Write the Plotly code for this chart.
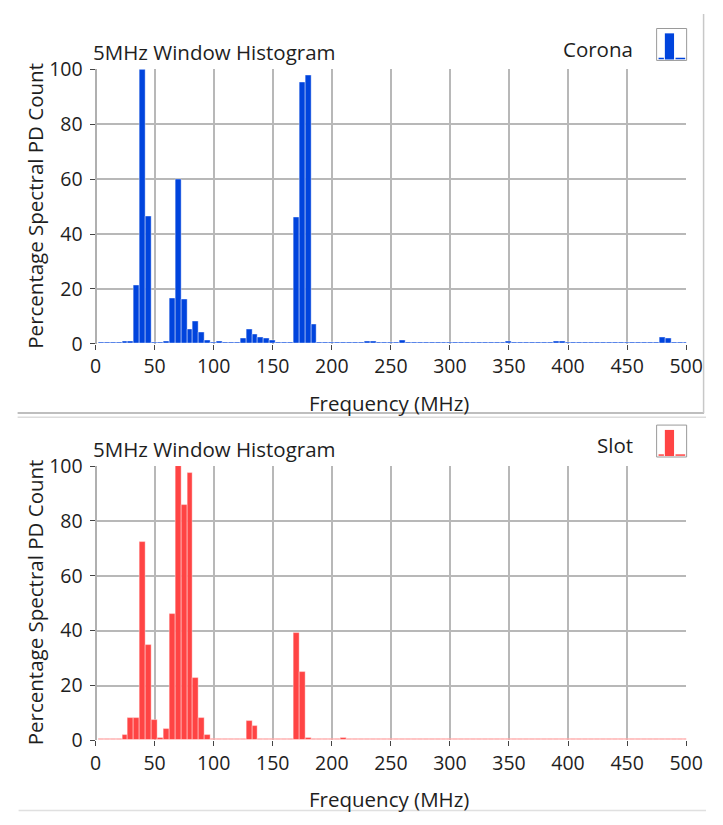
import plotly.graph_objects as go

W, H = 723, 825

# ---------------- data ----------------
freq_mhz = list(range(5, 505, 5))  # 5 MHz window centres

corona_pct = [
    0.5, 0.5, 0.5, 0.5, 1.0, 1.0, 21.2, 100.0, 46.6, 0.5,
    0.5, 1.0, 16.6, 59.8, 16.1, 5.3, 8.0, 4.1, 1.4, 0.6,
    0.9, 0.5, 0.6, 0.5, 1.8, 5.2, 3.6, 2.5, 1.8, 1.4,
    0.6, 0.6, 0.6, 46.1, 95.3, 97.8, 7.2, 0.5, 0.5, 0.5,
    0.5, 0.6, 0.6, 0.5, 0.6, 1.0, 1.0, 0.6, 0.5, 0.5,
    0.6, 1.1, 0.6, 0.5, 0.5, 0.5, 0.5, 0.5, 0.5, 0.5,
    0.5, 0.5, 0.5, 0.5, 0.5, 0.5, 0.5, 0.5, 0.5, 0.7,
    0.5, 0.5, 0.5, 0.5, 0.5, 0.5, 0.5, 0.7, 0.7, 0.5,
    0.5, 0.5, 0.5, 0.5, 0.5, 0.5, 0.5, 0.5, 0.5, 0.5,
    0.5, 0.5, 0.5, 0.5, 0.5, 2.2, 1.9, 0.5, 0.5, 0.5,
]

slot_pct = [
    0.5, 0.5, 0.5, 0.5, 2.1, 8.0, 8.0, 72.3, 34.9, 7.6,
    0.9, 4.1, 46.2, 100.0, 85.9, 97.3, 22.8, 8.0, 2.1, 0.5,
    0.5, 0.5, 0.5, 0.5, 0.6, 7.2, 5.3, 0.6, 0.5, 0.5,
    0.5, 0.5, 0.6, 39.1, 24.8, 0.7, 0.5, 0.5, 0.5, 0.5,
    0.5, 0.7, 0.5, 0.5, 0.5, 0.5, 0.5, 0.5, 0.5, 0.5,
    0.5, 0.5, 0.5, 0.5, 0.5, 0.5, 0.5, 0.5, 0.5, 0.5,
    0.5, 0.5, 0.5, 0.5, 0.5, 0.5, 0.5, 0.5, 0.5, 0.5,
    0.5, 0.5, 0.5, 0.5, 0.5, 0.5, 0.5, 0.5, 0.5, 0.5,
    0.5, 0.5, 0.5, 0.5, 0.5, 0.5, 0.5, 0.5, 0.5, 0.5,
    0.5, 0.5, 0.5, 0.5, 0.5, 0.5, 0.5, 0.5, 0.5, 0.5,
]

x_ticks = [0, 50, 100, 150, 200, 250, 300, 350, 400, 450, 500]
y_ticks = [0, 20, 40, 60, 80, 100]
chart_title = "5MHz Window Histogram"
x_title = "Frequency (MHz)"
y_title = "Percentage Spectral PD Count"
series_names = ["Corona", "Slot"]
series_colors = ["#0044DD", "#FF4444"]

# ---------------- layout helpers ----------------
FONT = "Open Sans"
TXT = "#1e1e1e"
TITLE_SIZE = 20.5
TICK_SIZE = 19.5


def px(x):
    return x / W


def py(y):
    return 1 - y / H


PLOT_L, PLOT_R = 92.5, 702.5
panels = [
    dict(top=57.3, bottom=341.0),
    dict(top=467.3, bottom=751.0),
]

fig = go.Figure()

for i, (vals, name, col) in enumerate(zip([corona_pct, slot_pct], series_names, series_colors)):
    xa = "x" if i == 0 else "x2"
    ya = "y" if i == 0 else "y2"
    fig.add_trace(go.Bar(
        x=freq_mhz, y=vals, name=name, xaxis=xa, yaxis=ya,
        width=5,
        marker=dict(color=col, line=dict(color="rgba(255,255,255,0.5)", width=0.8)),
        showlegend=False,
    ))

axis_common = dict(
    showgrid=True, gridcolor="#b8b8b8", gridwidth=1.5,
    showline=False,
    ticks="outside", ticklen=5, tickwidth=1, tickcolor="#444",
    tickfont=dict(family=FONT, size=TICK_SIZE, color=TXT),
)

layout = dict(
    width=W, height=H,
    margin=dict(l=0, r=0, t=0, b=0),
    paper_bgcolor="white", plot_bgcolor="white",
    bargap=0,
    font=dict(family=FONT, color=TXT),
)

for i, p in enumerate(panels):
    sx = "" if i == 0 else "2"
    layout["xaxis" + sx] = dict(
        axis_common,
        domain=[px(PLOT_L), px(PLOT_R)],
        range=[0, 500], tickvals=x_ticks,
        zeroline=True, zerolinecolor="#b0b0b0", zerolinewidth=1.5,
        anchor="y" + sx,
    )
    layout["yaxis" + sx] = dict(
        axis_common,
        domain=[py(p["bottom"]), py(p["top"])],
        range=[0, 100], tickvals=y_ticks,
        zeroline=False,
        ticklabelstandoff=3,
        anchor="x" + sx,
    )

fig.update_layout(**layout)

annotations = []
shapes = []
legend_tops = [15.0, 425.0]
for i, p in enumerate(panels):
    # chart title
    annotations.append(dict(
        x=px(88), y=py(p["top"] - 17.8), xref="paper", yref="paper",
        text=chart_title, showarrow=False, xanchor="left", yanchor="middle",
        font=dict(family=FONT, size=TITLE_SIZE, color=TXT),
    ))
    # x axis title
    annotations.append(dict(
        x=px(395.5), y=py(p["bottom"] + 61), xref="paper", yref="paper",
        text=x_title, showarrow=False, xanchor="center", yanchor="middle",
        font=dict(family=FONT, size=TITLE_SIZE, color=TXT),
    ))
    # y axis title
    annotations.append(dict(
        x=px(30), y=py((p["top"] + p["bottom"]) / 2 - 1), xref="paper", yref="paper",
        text=y_title, showarrow=False, xanchor="center", yanchor="middle",
        textangle=-90,
        font=dict(family=FONT, size=TITLE_SIZE, color=TXT),
    ))
    # legend label
    lt = legend_tops[i]
    annotations.append(dict(
        x=px(650), y=py(lt + 21), xref="paper", yref="paper",
        text=series_names[i], showarrow=False, xanchor="right", yanchor="middle",
        font=dict(family=FONT, size=TITLE_SIZE, color=TXT),
    ))
    # legend swatch box
    shapes.append(dict(type="rect", xref="paper", yref="paper",
                       x0=px(672), x1=px(703), y0=py(lt + 33), y1=py(lt),
                       line=dict(color="#9a9a9a", width=1), fillcolor="white"))
    shapes.append(dict(type="rect", xref="paper", yref="paper",
                       x0=px(680.5), x1=px(690), y0=py(lt + 32), y1=py(lt + 5),
                       line=dict(width=0), fillcolor=series_colors[i]))
    shapes.append(dict(type="line", xref="paper", yref="paper",
                       x0=px(674), x1=px(679.5), y0=py(lt + 31), y1=py(lt + 31),
                       line=dict(color=series_colors[i], width=1.5)))
    shapes.append(dict(type="line", xref="paper", yref="paper",
                       x0=px(691.5), x1=px(701.5), y0=py(lt + 31), y1=py(lt + 31),
                       line=dict(color=series_colors[i], width=1.5)))

# panel separators / borders
shapes.append(dict(type="line", xref="paper", yref="paper",
                   x0=px(12), x1=px(721), y0=py(412.5), y1=py(412.5),
                   line=dict(color="#a8a8a8", width=1.5)))
shapes.append(dict(type="line", xref="paper", yref="paper",
                   x0=px(720.5), x1=px(720.5), y0=py(0), y1=py(412.5),
                   line=dict(color="#c8c8c8", width=1.5)))
shapes.append(dict(type="line", xref="paper", yref="paper",
                   x0=px(12), x1=px(723), y0=py(417), y1=py(417),
                   line=dict(color="#dcdcdc", width=1.5)))
shapes.append(dict(type="line", xref="paper", yref="paper",
                   x0=px(13), x1=px(723), y0=py(823.5), y1=py(823.5),
                   line=dict(color="#e0e0e0", width=1.5)))

fig.update_layout(annotations=annotations, shapes=shapes)

fig.write_html("out.html")
